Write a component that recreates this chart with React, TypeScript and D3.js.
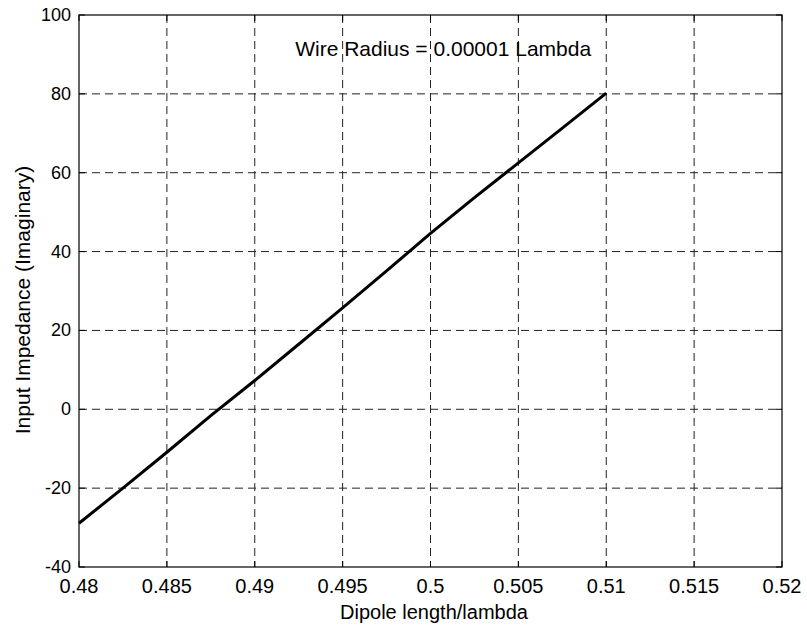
import React from 'react';
import * as d3 from 'd3';

// dipole length (in wavelengths) vs imaginary part of input impedance
const dipoleLength = [0.48, 0.4825, 0.485, 0.4875, 0.49, 0.4925, 0.495, 0.4975, 0.5, 0.5025, 0.505, 0.5075, 0.51];
const reactance = [-28.9, -20, -10.9, -1.6, 7.3, 16.5, 25.7, 35.1, 44.6, 53.7, 62.5, 71.3, 80.2];

const xTicks = [0.48, 0.485, 0.49, 0.495, 0.5, 0.505, 0.51, 0.515, 0.52];
const xTickLabels = ['0.48', '0.485', '0.49', '0.495', '0.5', '0.505', '0.51', '0.515', '0.52'];
const yTicks = [-40, -20, 0, 20, 40, 60, 80, 100];
const yTickLabels = ['-40', '-20', '0', '20', '40', '60', '80', '100'];

const W = 807;
const H = 629;
const margin = { top: 15, right: 25, bottom: 62, left: 79 };
const font = '"Liberation Sans", Arial, Helvetica, sans-serif';

const App = () => {
  const x = d3.scaleLinear()
    .domain([0.48, 0.52])
    .range([margin.left, W - margin.right]);
  const y = d3.scaleLinear()
    .domain([-40, 100])
    .range([H - margin.bottom, margin.top]);

  const line = d3.line<number>()
    .x((d, i) => x(dipoleLength[i]))
    .y(d => y(d));

  const [x0, x1] = x.range();
  const [y0, y1] = y.range(); // y0 = bottom, y1 = top
  const tickLen = 6;

  return (
    <svg width={W} height={H} style={{ position: 'absolute', left: 0, top: 0, background: '#fff' }}>
      <rect x={0} y={0} width={W} height={H} fill="#fff" />

      {/* grid */}
      <g stroke="#222" strokeWidth={1} strokeDasharray="8,5" fill="none">
        {xTicks.slice(1, -1).map(t => (
          <line key={'gx' + t} x1={x(t)} x2={x(t)} y1={y1} y2={y0} />
        ))}
        {yTicks.slice(1, -1).map(t => (
          <line key={'gy' + t} x1={x0} x2={x1} y1={y(t)} y2={y(t)} />
        ))}
      </g>

      {/* inward ticks on all sides */}
      <g stroke="#000" strokeWidth={1}>
        {xTicks.map(t => (
          <g key={'tx' + t}>
            <line x1={x(t)} x2={x(t)} y1={y0} y2={y0 - tickLen} />
            <line x1={x(t)} x2={x(t)} y1={y1} y2={y1 + tickLen} />
          </g>
        ))}
        {yTicks.map(t => (
          <g key={'ty' + t}>
            <line x1={x0} x2={x0 + tickLen} y1={y(t)} y2={y(t)} />
            <line x1={x1} x2={x1 - tickLen} y1={y(t)} y2={y(t)} />
          </g>
        ))}
      </g>

      {/* axes box */}
      <rect x={x0} y={y1} width={x1 - x0} height={y0 - y1} fill="none" stroke="#000" strokeWidth={1.2} />

      {/* data */}
      <path d={line(reactance) || ''} fill="none" stroke="#000" strokeWidth={3} strokeLinejoin="round" />

      {/* tick labels */}
      <g fontFamily={font} fill="#000">
        {xTicks.map((t, i) => (
          <text key={'lx' + t} x={x(t)} y={593} fontSize={20} textAnchor="middle">{xTickLabels[i]}</text>
        ))}
        {yTicks.map((t, i) => (
          <text key={'ly' + t} x={x0 - 8} y={y(t)} fontSize={18} textAnchor="end" dominantBaseline="central">{yTickLabels[i]}</text>
        ))}
      </g>

      {/* axis labels */}
      <text x={434} y={619} fontFamily={font} fontSize={20} textAnchor="middle">Dipole length/lambda</text>
      <text transform="translate(30,300) rotate(-90)" fontFamily={font} fontSize={21} textAnchor="middle">Input Impedance (Imaginary)</text>

      {/* annotation */}
      <text x={x(0.4923)} y={56} fontFamily={font} fontSize={21}>Wire Radius = 0.00001 Lambda</text>
    </svg>
  );
};

export default App;
